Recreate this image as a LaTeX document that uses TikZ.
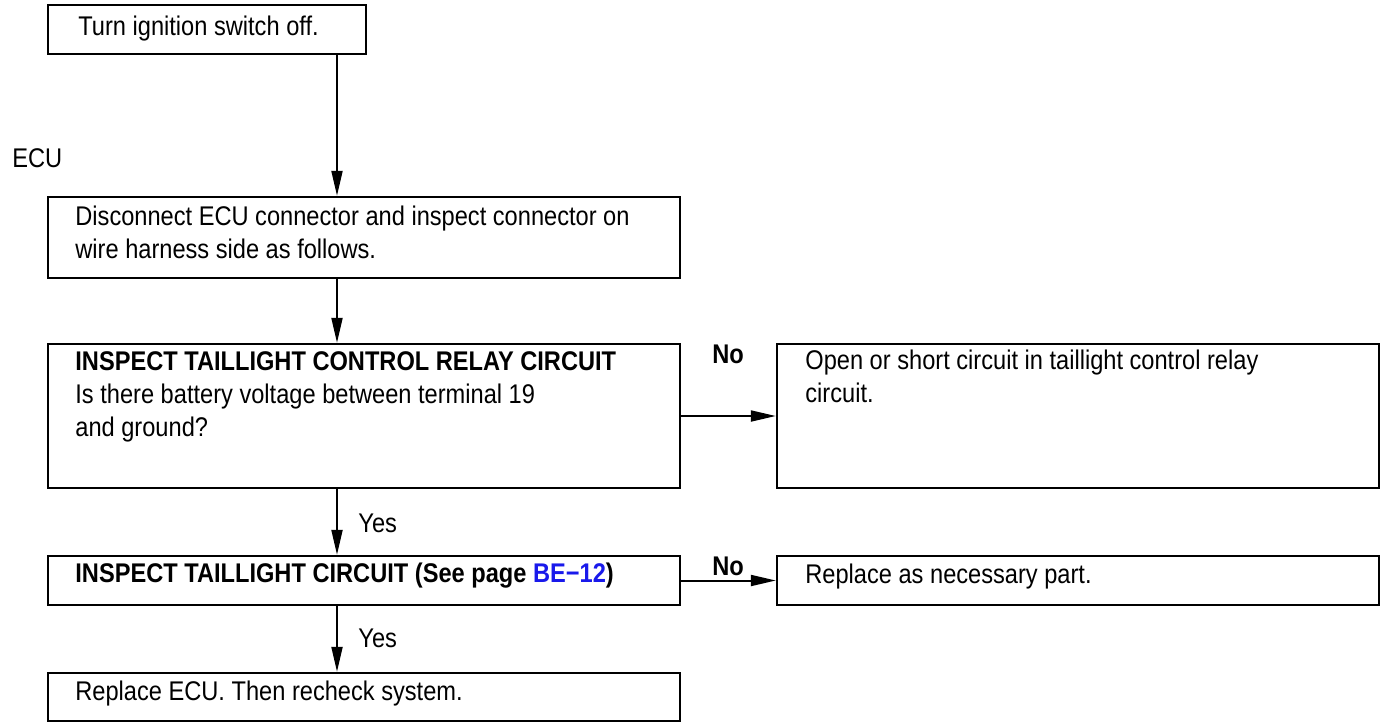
\documentclass[tikz,border=0pt]{standalone}
\usepackage{fontspec}
\setmainfont{Liberation Sans}[FakeStretch=0.875]
\usetikzlibrary{arrows.meta,fit}
\definecolor{pageblue}{RGB}{25,25,235}
\newcommand{\flowsize}{\fontsize{13.5}{16.5}\selectfont}

\begin{document}
\begin{tikzpicture}[x=0.5pt,y=-0.5pt,
	box/.style={draw, line width=1.2pt, inner sep=0pt},
	txt/.style={anchor=base west, inner sep=0pt, align=left, font=\flowsize},
	flow/.style={line width=1pt, -{Triangle[length=12.5pt,width=5.5pt]}}]
	\useasboundingbox (0,0) rectangle (1382,723);
	\coordinate (spine) at (337,0);

	\node[box, fit={(48,5) (366,54)}] (turnoff) {};
	\node[box, fit={(48,197) (680,278)}] (disconnect) {};
	\node[box, fit={(48,344) (680,488)}] (relay) {};
	\node[box, fit={(777,344) (1379,488)}] (opencircuit) {};
	\node[box, fit={(48,556) (680,605)}] (taillight) {};
	\node[box, fit={(777,556) (1379,605)}] (replacepart) {};
	\node[box, fit={(48,673) (680,721)}] (replaceecu) {};

	% base of a two or three line text is its last line
	\node[txt] (turnofftext) at (78,35) {Turn ignition switch off.};
	\node[txt] (ecu) at (12,167) {ECU};
	\node[txt] (disconnecttext) at (75,258) {Disconnect ECU connector and inspect connector on\\wire harness side as follows.};
	\node[txt] (relaytext) at (75,436) {\textbf{INSPECT TAILLIGHT CONTROL RELAY CIRCUIT}\\Is there battery voltage between terminal 19\\and ground?};
	\node[txt] (opentext) at (805,402) {Open or short circuit in taillight control relay\\circuit.};
	\node[txt] (tailtext) at (75,582) {\textbf{INSPECT TAILLIGHT CIRCUIT (See page \textcolor{pageblue}{BE−12})}};
	\node[txt] (parttext) at (805,583) {Replace as necessary part.};
	\node[txt] (ecutext) at (75,700) {Replace ECU. Then recheck system.};

	\node[txt, font=\flowsize\bfseries] (no1) at (712,363) {No};
	\node[txt, font=\flowsize\bfseries] (no2) at (712,575) {No};
	\node[txt] (yes1) at (358,532) {Yes};
	\node[txt] (yes2) at (358,647) {Yes};

	\draw[flow] (turnoff.south -| spine) -- (disconnect.north -| spine);
	\draw[flow] (disconnect.south -| spine) -- (relay.north -| spine);
	\draw[flow] (relay.south -| spine) -- (taillight.north -| spine);
	\draw[flow] (taillight.south -| spine) -- (replaceecu.north -| spine);
	\draw[flow] (relay.east) -- (opencircuit.west);
	\draw[flow] (taillight.east) -- (replacepart.west);
\end{tikzpicture}
\end{document}
